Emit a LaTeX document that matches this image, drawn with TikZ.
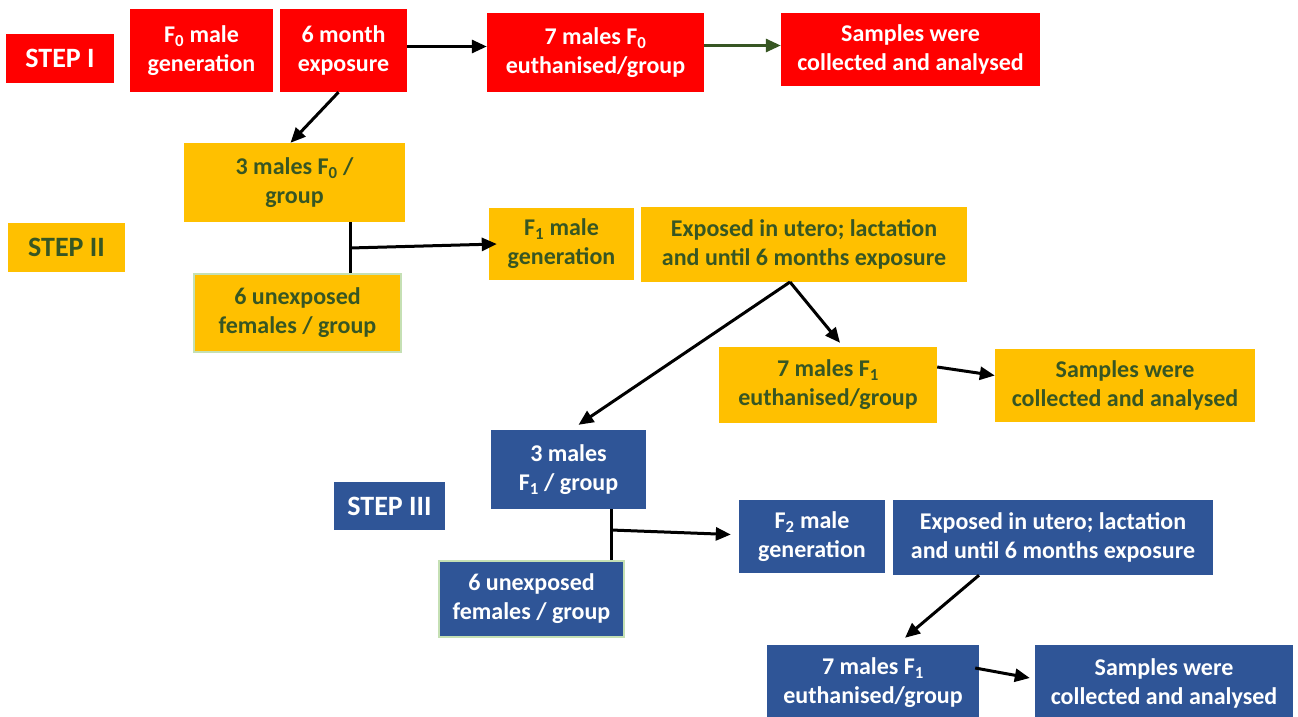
\documentclass[tikz,border=0pt]{standalone}
\usepackage{fontspec}
\setmainfont{Carlito}
\usetikzlibrary{arrows.meta}

\definecolor{stepred}{HTML}{FF0000}
\definecolor{stepyel}{HTML}{FFC000}
\definecolor{stepblue}{HTML}{2F5597}
\definecolor{darkgreen}{HTML}{375623}
\definecolor{palegreen}{HTML}{C5E0B4}

\tikzset{
    box/.style={rectangle, inner sep=0pt, align=center,
        font=\fontsize{24}{29}\selectfont\bfseries},
    redbox/.style={box, fill=stepred, text=white},
    yelbox/.style={box, fill=stepyel, text=darkgreen},
    bluebox/.style={box, fill=stepblue, text=white},
    steplabel/.style={font=\fontsize{28}{32}\selectfont\bfseries},
    femaleline/.style={draw=palegreen, line width=2pt},
    arr/.style={-{Triangle[length=15pt,width=13pt]}, line width=3pt},
    line/.style={line width=3pt},
}

\begin{document}
\begin{tikzpicture}[x=1pt, y=-1pt]
    \useasboundingbox (0,0) rectangle (1298,717);

    \node[redbox, steplabel, minimum width=108, minimum height=49] (s1) at (60,58.5) {STEP I};
    \node[redbox, minimum width=143, minimum height=83] (f0) at (201.5,50.5) {F\textsubscript{0} male\\generation};
    \node[redbox, minimum width=127, minimum height=83] (exp0) at (343.5,50.5) {6 month\\exposure};
    \node[redbox, minimum width=217, minimum height=79] (eu0) at (595.5,52.5) {7 males F\textsubscript{0}\\euthanised/group};
    \node[redbox, minimum width=259, minimum height=73] (sa0) at (910.5,49.5) {Samples were\\collected and analysed};

    \node[yelbox, minimum width=221, minimum height=79] (m0) at (294.5,182.5) {3 males F\textsubscript{0} /\\group};
    \node[yelbox, steplabel, minimum width=117, minimum height=49] (s2) at (66.5,247.5) {STEP II};
    \node[yelbox, minimum width=145, minimum height=72] (f1) at (561.5,244) {F\textsubscript{1} male\\generation};
    \node[yelbox, minimum width=326, minimum height=75] (exp1) at (804,244.5) {Exposed in utero; lactation\\and until 6 months exposure};
    \node[yelbox, femaleline, minimum width=207, minimum height=78] (fe1) at (297.5,313) {6 unexposed\\females / group};
    \node[yelbox, minimum width=218, minimum height=76] (eu1) at (828,385) {7 males F\textsubscript{1}\\euthanised/group};
    \node[yelbox, minimum width=260, minimum height=73] (sa1) at (1125,385.5) {Samples were\\collected and analysed};

    \node[bluebox, minimum width=155, minimum height=79] (m1) at (568.5,469.5) {3 males\\F\textsubscript{1} / group};
    \node[bluebox, steplabel, minimum width=111, minimum height=48] (s3) at (389.5,506) {STEP III};
    \node[bluebox, minimum width=146, minimum height=73] (f2) at (812,536.5) {F\textsubscript{2} male\\generation};
    \node[bluebox, minimum width=320, minimum height=75] (exp2) at (1053,537.5) {Exposed in utero; lactation\\and until 6 months exposure};
    \node[bluebox, femaleline, minimum width=185, minimum height=76] (fe2) at (531.5,599) {6 unexposed\\females / group};
    \node[bluebox, minimum width=212, minimum height=76] (eu2) at (873,683) {7 males F\textsubscript{1}\\euthanised/group};
    \node[bluebox, minimum width=258, minimum height=76] (sa2) at (1164,683) {Samples were\\collected and analysed};

    \coordinate (j1) at (350,248);
    \coordinate (j2) at (611,530);
    \coordinate (p1) at (790,282);

    \draw[arr] ([yshift=4]exp0.east) -- ([yshift=6]eu0.west);
    \draw[arr, darkgreen] ([yshift=7]eu0.east) -- ([yshift=4]sa0.west);
    \draw[arr] ([xshift=-5]exp0.south) -- ([xshift=-4]m0.north);

    \draw[line] (m0.south -| j1) -- (fe1.north -| j1);
    \draw[arr] (j1) -- ([xshift=8]f1.west);
    \draw[arr] (p1) -- ([xshift=10,yshift=5]m1.north);
    \draw[arr] (p1) -- ([xshift=12,yshift=4]eu1.north);
    \draw[arr] ([yshift=18]eu1.east) -- ([yshift=10]sa1.west);

    \draw[line] (m1.south -| j2) -- (fe2.north -| j2);
    \draw[arr] (j2) -- ([xshift=-8,yshift=2]f2.west);
    \draw[arr] ([xshift=-74]exp2.south) -- ([xshift=32,yshift=7]eu2.north);
    \draw[arr] ([yshift=15,xshift=-4]eu2.east) -- ([yshift=5,xshift=-5]sa2.west);
\end{tikzpicture}
\end{document}
